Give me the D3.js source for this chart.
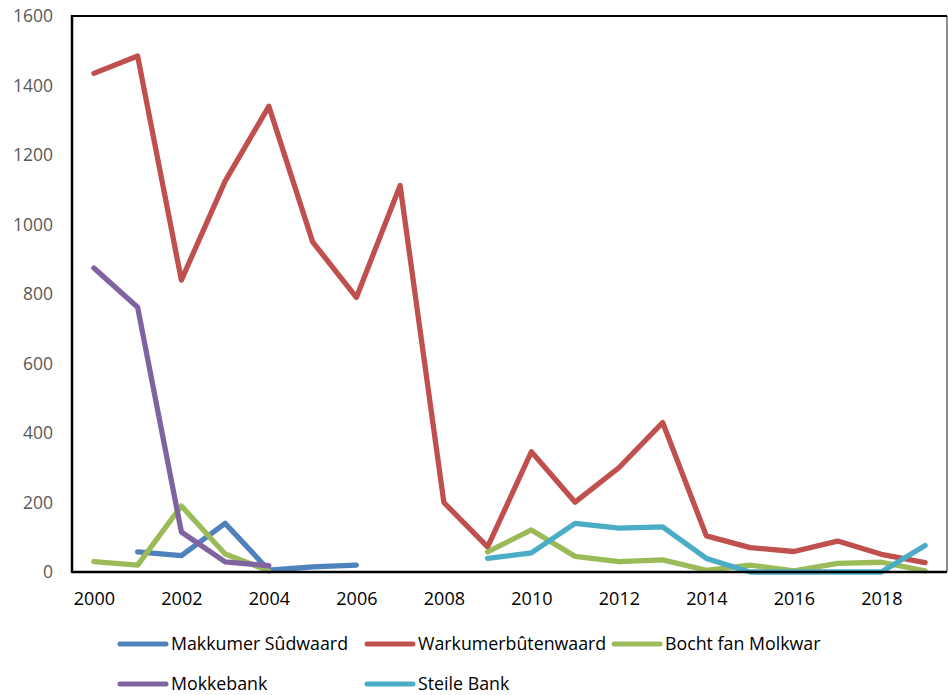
<!DOCTYPE html>
<html>
<head>
<meta charset="utf-8">
<script src="https://cdn.jsdelivr.net/npm/d3@7"></script>
<style>
  html, body { margin: 0; padding: 0; background: #fff; }
  svg { display: block; }
  text { font-family: "Open Sans", "Noto Sans", sans-serif; }
</style>
</head>
<body>
<svg id="chart" width="948" height="695"></svg>
<script>
// Years on the category axis
const years = [2000, 2001, 2002, 2003, 2004, 2005, 2006, 2007, 2008, 2009,
               2010, 2011, 2012, 2013, 2014, 2015, 2016, 2017, 2018, 2019];

// Counts per site (null = not counted that year)
const makkumerSudwaard  = [null, 58, 47, 140, 5, 15, 20, null, null, null,
                           null, null, null, null, null, null, null, null, null, null];
const warkumerbutenwaard = [1435, 1485, 840, 1125, 1340, 950, 790, 1112, 200, 72,
                            346, 201, 300, 430, 104, 70, 59, 89, 51, 27];
const bochtFanMolkwar   = [30, 20, 190, 52, 3, null, null, null, null, 58,
                           121, 45, 30, 35, 5, 20, 3, 25, 28, 3];
const mokkebank         = [875, 762, 115, 29, 18, null, null, null, null, null,
                           null, null, null, null, null, null, null, null, null, null];
const steileBank        = [null, null, null, null, null, null, null, null, null, 39,
                           55, 140, 126, 130, 39, 0, 0, 0, 0, 76];

const yTicks = [0, 200, 400, 600, 800, 1000, 1200, 1400, 1600];
const xTickYears = [2000, 2002, 2004, 2006, 2008, 2010, 2012, 2014, 2016, 2018];

const seriesNames = ["Makkumer Sûdwaard", "Warkumerbûtenwaard", "Bocht fan Molkwar",
                     "Mokkebank", "Steile Bank"];
const seriesValues = [makkumerSudwaard, warkumerbutenwaard, bochtFanMolkwar,
                      mokkebank, steileBank];
const seriesColors = ["#4F81BD", "#C0504D", "#9BBB59", "#8064A2", "#4BACC6"];

const series = seriesNames.map((name, i) => ({
  name,
  color: seriesColors[i],
  points: years.map((yr, j) => ({ year: yr, value: seriesValues[i][j] }))
}));

const svg = d3.select("#chart");
const plot = { left: 72, right: 947, top: 16, bottom: 572 };

const x = d3.scalePoint().domain(years).range([plot.left, plot.right]).padding(0.5);
const y = d3.scaleLinear().domain([0, 1600]).range([plot.bottom, plot.top]);

// Y axis labels
const yAxis = svg.append("g")
  .attr("transform", `translate(${plot.left},0)`)
  .call(d3.axisLeft(y).tickValues(yTicks).tickSize(0).tickPadding(19).tickFormat(d3.format("d")));
yAxis.select(".domain").remove();
yAxis.selectAll("text")
  .attr("font-size", 17.5)
  .attr("font-family", "'Open Sans', 'Noto Sans', sans-serif")
  .attr("fill", "#595959");

// X axis labels (every second year)
const xAxis = svg.append("g")
  .attr("transform", `translate(0,${plot.bottom})`)
  .call(d3.axisBottom(x).tickValues(xTickYears).tickSize(0).tickPadding(20));
xAxis.select(".domain").remove();
xAxis.selectAll("text")
  .attr("font-size", 18)
  .attr("font-family", "'Open Sans', 'Noto Sans', sans-serif")
  .attr("fill", "#000");

// Series lines
const line = d3.line()
  .defined(d => d.value !== null)
  .x(d => x(d.year))
  .y(d => y(d.value));

svg.append("g")
  .selectAll("path")
  .data(series)
  .join("path")
  .attr("d", d => line(d.points))
  .attr("fill", "none")
  .attr("stroke", d => d.color)
  .attr("stroke-width", 5.3)
  .attr("stroke-linejoin", "round")
  .attr("stroke-linecap", "round");

// Plot area frame
svg.append("line")
  .attr("x1", plot.right).attr("x2", plot.right)
  .attr("y1", plot.top).attr("y2", plot.bottom)
  .attr("stroke", "#404040").attr("stroke-width", 1.2);
svg.append("line")
  .attr("x1", plot.left).attr("x2", plot.right)
  .attr("y1", plot.top).attr("y2", plot.top)
  .attr("stroke", "#000").attr("stroke-width", 2);
svg.append("line")
  .attr("x1", plot.left).attr("x2", plot.left)
  .attr("y1", plot.top - 1).attr("y2", plot.bottom + 1)
  .attr("stroke", "#000").attr("stroke-width", 2.5);
svg.append("line")
  .attr("x1", plot.left).attr("x2", plot.right)
  .attr("y1", plot.bottom).attr("y2", plot.bottom)
  .attr("stroke", "#000").attr("stroke-width", 2.5);

// Legend: two rows, three columns
const legendCols = [120, 367, 614];
const legendRows = [644, 684];
const legend = svg.append("g")
  .selectAll("g")
  .data(series)
  .join("g")
  .attr("transform", (d, i) => `translate(${legendCols[i % 3]},${legendRows[Math.floor(i / 3)]})`);

legend.append("line")
  .attr("x1", 0).attr("x2", 46)
  .attr("y1", 0).attr("y2", 0)
  .attr("stroke", d => d.color)
  .attr("stroke-width", 5)
  .attr("stroke-linecap", "round");

legend.append("text")
  .attr("x", 51)
  .attr("y", 0)
  .attr("dy", "0.35em")
  .attr("font-size", 17.8)
  .attr("fill", "#000")
  .text(d => d.name);
</script>
</body>
</html>
